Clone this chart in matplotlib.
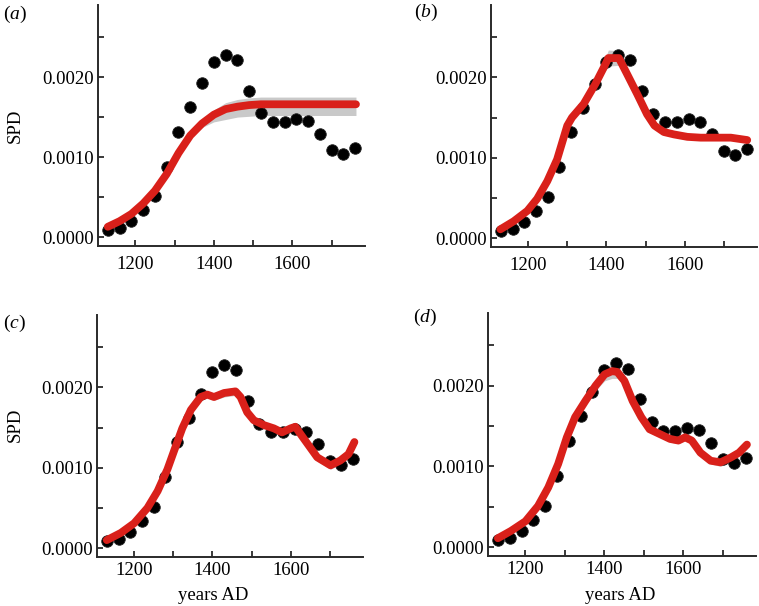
import numpy as np
import matplotlib
matplotlib.use("Agg")
import matplotlib.pyplot as plt
from matplotlib.ticker import FixedLocator, FixedFormatter

plt.rcParams['font.family'] = ['Liberation Serif', 'DejaVu Serif']
plt.rcParams['mathtext.fontset'] = 'custom'
plt.rcParams['mathtext.rm'] = 'Liberation Serif'
plt.rcParams['mathtext.it'] = 'Liberation Serif:italic'

# observed SPD points
years = [1130, 1160, 1190, 1220, 1250, 1280, 1310, 1340, 1370, 1400, 1430,
         1460, 1490, 1520, 1550, 1580, 1610, 1640, 1670, 1700, 1730, 1760]
spd = [0.00009, 0.00011, 0.00020, 0.00034, 0.00051, 0.00088, 0.00132, 0.00162,
       0.00192, 0.00219, 0.00228, 0.00221, 0.00183, 0.00155, 0.00144, 0.00144,
       0.00148, 0.00145, 0.00129, 0.00109, 0.00104, 0.00111]

# (a) logistic fit
fit_x_a = [1130, 1160, 1190, 1220, 1250, 1280, 1310, 1340, 1370, 1400, 1430,
           1460, 1490, 1520, 1550, 1580, 1610, 1640, 1670, 1700, 1730, 1762]
fit_a = [0.00013, 0.00020, 0.00029, 0.00042, 0.00058, 0.00079, 0.00105, 0.00127,
         0.00142, 0.00153, 0.00160, 0.00163, 0.00165, 0.00166, 0.00166, 0.00166,
         0.00166, 0.00166, 0.00166, 0.00166, 0.00166, 0.00166]
lo_a = [0.00011, 0.00018, 0.00027, 0.00040, 0.00056, 0.00077, 0.00103, 0.00124,
        0.00137, 0.00144, 0.00147, 0.00150, 0.00151, 0.00152, 0.00152, 0.00152,
        0.00152, 0.00152, 0.00152, 0.00152, 0.00152, 0.00152]
hi_a = [0.00015, 0.00022, 0.00031, 0.00044, 0.00060, 0.00081, 0.00107, 0.00130,
        0.00146, 0.00159, 0.00168, 0.00172, 0.00174, 0.00175, 0.00175, 0.00175,
        0.00175, 0.00175, 0.00175, 0.00175, 0.00175, 0.00175]

# (b) piecewise fit
fit_x_b = [1129, 1163, 1198, 1223, 1249, 1274, 1300, 1312, 1342, 1372, 1393,
           1405, 1432, 1453, 1479, 1504, 1523, 1547, 1573, 1607, 1641, 1675,
           1718, 1760]
fit_b = [0.00011, 0.00021, 0.00034, 0.00049, 0.00071, 0.00098, 0.00140, 0.00150,
         0.00167, 0.00192, 0.00212, 0.00224, 0.00224, 0.00204, 0.00179, 0.00154,
         0.00140, 0.00132, 0.00129, 0.00126, 0.00125, 0.00125, 0.00125, 0.00122]
band_b = [0.00002, 0.00002, 0.00002, 0.00002, 0.00002, 0.00002, 0.00003, 0.00003,
          0.00003, 0.00004, 0.00007, 0.00010, 0.00009, 0.00006, 0.00004, 0.00003,
          0.00003, 0.00003, 0.00003, 0.00003, 0.00003, 0.00003, 0.00003, 0.00003]

# (c) fit
fit_x_c = [1130, 1166, 1200, 1234, 1260, 1285, 1302, 1323, 1345, 1370, 1387,
           1404, 1430, 1459, 1472, 1489, 1506, 1532, 1557, 1578, 1600, 1612,
           1634, 1668, 1702, 1727, 1748, 1763]
fit_c = [0.00010, 0.00019, 0.00031, 0.00050, 0.00071, 0.00098, 0.00121, 0.00149,
         0.00172, 0.00188, 0.00191, 0.00188, 0.00193, 0.00195, 0.00188, 0.00169,
         0.00159, 0.00153, 0.00149, 0.00144, 0.00149, 0.00151, 0.00136, 0.00113,
         0.00103, 0.00109, 0.00117, 0.00132]
band_c = [0.00002, 0.00002, 0.00002, 0.00002, 0.00002, 0.00003, 0.00003, 0.00003,
          0.00004, 0.00004, 0.00004, 0.00004, 0.00005, 0.00005, 0.00005, 0.00004,
          0.00004, 0.00004, 0.00004, 0.00004, 0.00004, 0.00004, 0.00004, 0.00005,
          0.00005, 0.00004, 0.00004, 0.00004]

# (d) fit
fit_x_d = [1130, 1163, 1200, 1232, 1258, 1283, 1305, 1326, 1352, 1378, 1401,
           1420, 1433, 1451, 1472, 1494, 1515, 1541, 1567, 1588, 1605, 1622,
           1644, 1670, 1695, 1721, 1742, 1762]
fit_d = [0.00011, 0.00020, 0.00032, 0.00051, 0.00074, 0.00103, 0.00136, 0.00161,
         0.00181, 0.00200, 0.00214, 0.00218, 0.00217, 0.00206, 0.00181, 0.00161,
         0.00146, 0.00140, 0.00134, 0.00132, 0.00136, 0.00132, 0.00117, 0.00107,
         0.00105, 0.00111, 0.00117, 0.00127]
band_d = [0.00002, 0.00002, 0.00002, 0.00002, 0.00003, 0.00003, 0.00003, 0.00003,
          0.00004, 0.00006, 0.00008, 0.00009, 0.00008, 0.00006, 0.00004, 0.00004,
          0.00004, 0.00004, 0.00004, 0.00004, 0.00004, 0.00004, 0.00004, 0.00004,
          0.00005, 0.00005, 0.00004, 0.00004]

yticks = [0.0, 0.0005, 0.0010, 0.0015, 0.0020, 0.0025]
ytick_labels = ['0.0000', '', '0.0010', '', '0.0020', '']
xticks = [1200, 1300, 1400, 1500, 1600, 1700]
xtick_labels = ['1200', '', '1400', '', '1600', '']
panel_labels = ['a', 'b', 'c', 'd']

W, H = 759, 606
fig = plt.figure(figsize=(W / 100, H / 100), dpi=100)

# axes boxes in pixels: left, right, top, bottom
boxes = [(98, 365, 5, 246), (491, 757, 5, 247), (97, 363, 315, 557), (488, 756, 313, 556)]
label_pos = [(3, 14), (414, 12), (3, 323), (413, 317)]
xpads = [7, 7, 3.5, 3.5]

RED = '#d9201a'
GREY = '#c9c9c9'
FS = 13.5

fits = [
    (fit_x_a, fit_a, lo_a, hi_a),
    (fit_x_b, fit_b, [f - b for f, b in zip(fit_b, band_b)], [f + b for f, b in zip(fit_b, band_b)]),
    (fit_x_c, fit_c, [f - b for f, b in zip(fit_c, band_c)], [f + b for f, b in zip(fit_c, band_c)]),
    (fit_x_d, fit_d, [f - b for f, b in zip(fit_d, band_d)], [f + b for f, b in zip(fit_d, band_d)]),
]

for i, (l, r, t, b) in enumerate(boxes):
    ax = fig.add_axes([l / W, 1 - b / H, (r - l) / W, (b - t) / H])
    fx, fy, flo, fhi = fits[i]
    ax.fill_between(fx, flo, fhi, color=GREY, lw=0, zorder=1)
    ax.plot(years, spd, 'o', color='black', markersize=8.3, markeredgecolor='#222222',
            markeredgewidth=0.6, zorder=2)
    ax.plot(fx, fy, '-', color=RED, lw=5.6, solid_capstyle='round',
            solid_joinstyle='round', zorder=3)
    ax.set_xlim(1105, 1785)
    ax.set_ylim(-0.00011, 0.0029)
    for s in ['top', 'right']:
        ax.spines[s].set_visible(False)
    for s in ['left', 'bottom']:
        ax.spines[s].set_linewidth(1.4)
        ax.spines[s].set_color('#2a2a2a')
    ax.yaxis.set_major_locator(FixedLocator(yticks))
    ax.yaxis.set_major_formatter(FixedFormatter(ytick_labels))
    ax.xaxis.set_major_locator(FixedLocator(xticks))
    ax.xaxis.set_major_formatter(FixedFormatter(xtick_labels))
    ax.tick_params(axis='both', direction='in', length=4, width=1.3, color='#2a2a2a',
                   labelsize=FS)
    ax.tick_params(axis='y', pad=3)
    ax.tick_params(axis='x', pad=xpads[i])
    ax.set_facecolor('none')
    lx, ly = label_pos[i]
    fig.text(lx / W, 1 - ly / H, r'($\mathit{%s}$)' % panel_labels[i], fontsize=14,
             ha='left', va='center')

fig.text(15 / W, 1 - 126 / H, 'SPD', rotation=90, fontsize=FS, ha='center', va='center')
fig.text(15 / W, 1 - 425 / H, 'SPD', rotation=90, fontsize=FS, ha='center', va='center')
fig.text(213 / W, 1 - 595 / H, 'years AD', fontsize=FS, ha='center', va='center')
fig.text(620 / W, 1 - 595 / H, 'years AD', fontsize=FS, ha='center', va='center')

fig.savefig('out.png', dpi=100, facecolor='white')
